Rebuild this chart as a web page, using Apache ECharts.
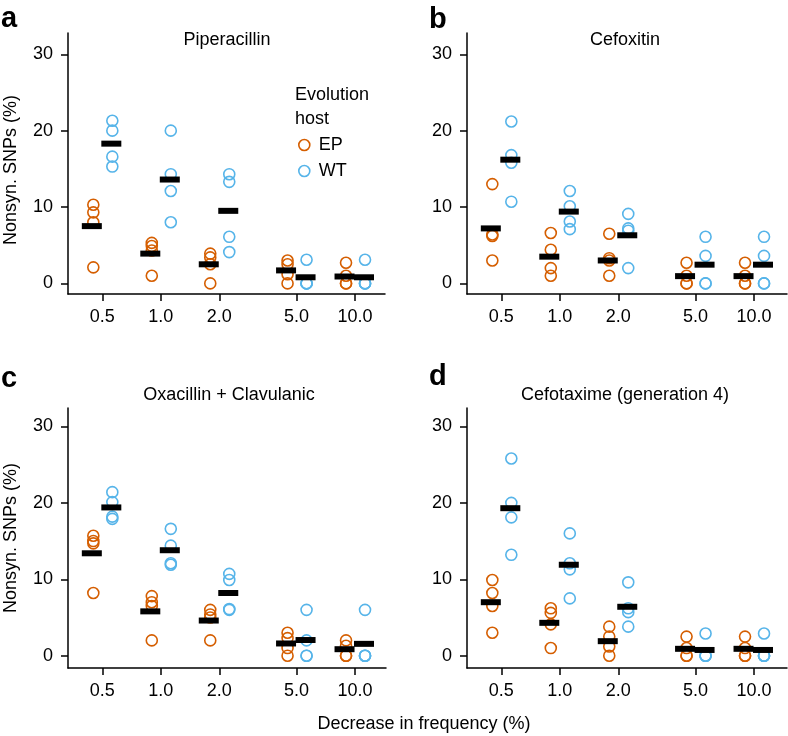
<!DOCTYPE html>
<html>
<head>
<meta charset="utf-8">
<script src="https://cdn.jsdelivr.net/npm/echarts@6/dist/echarts.min.js"></script>
<style>
  html, body { margin: 0; padding: 0; background: #fff; }
  #main { width: 788px; height: 736px; }
</style>
</head>
<body>
<div id="main"></div>
<script>
// Decrease in frequency (%) - x categories, drawn on a log2 scale
const freqs = [0.5, 1.0, 2.0, 5.0, 10.0];
const freqLabels = ['0.5', '1.0', '2.0', '5.0', '10.0'];
const yTicks = [0, 10, 20, 30];
const panelLetters = ['a', 'b', 'c', 'd'];
const panelTitles = ['Piperacillin', 'Cefoxitin', 'Oxacillin + Clavulanic', 'Cefotaxime (generation 4)'];

// Nonsyn. SNPs (%) per replicate, one row per frequency
const pipEP = [[10.3, 9.3, 8.0, 2.1], [5.3, 4.9, 4.3, 1.0], [3.9, 3.4, 2.5, 0], [3.0, 2.5, 1.2, 0], [2.7, 1.0, 0, 0]];
const pipWT = [[21.3, 20.0, 16.6, 15.3], [20.0, 14.3, 12.1, 8.0], [14.3, 13.3, 6.1, 4.1], [3.1, 0, 0, 0], [3.1, 0, 0, 0]];
const pipEPMean = [7.5, 3.9, 2.5, 1.7, 0.9];
const pipWTMean = [18.3, 13.6, 9.5, 0.8, 0.8];

const cfxEP = [[13.0, 6.4, 6.2, 3.0], [6.6, 4.4, 2.0, 1.0], [6.5, 3.3, 3.0, 1.0], [2.7, 1.0, 0, 0], [2.7, 1.0, 0, 0]];
const cfxWT = [[21.2, 16.8, 15.8, 10.7], [12.1, 10.1, 8.1, 7.1], [9.1, 7.2, 6.9, 2.0], [6.1, 3.6, 0, 0], [6.1, 3.6, 0, 0]];
const cfxEPMean = [7.2, 3.5, 3.0, 0.95, 0.95];
const cfxWTMean = [16.2, 9.4, 6.3, 2.45, 2.45];

const oxaEP = [[15.7, 15.0, 14.7, 8.2], [7.8, 7.0, 6.5, 2.0], [6.0, 5.4, 5.0, 2.0], [3.0, 2.3, 1.0, 0], [2.0, 1.3, 0, 0]];
const oxaWT = [[21.4, 20.1, 18.2, 17.9], [16.6, 14.4, 12.1, 11.9], [10.7, 9.9, 6.1, 6.0], [6.0, 2.0, 0, 0], [6.0, 0, 0, 0]];
const oxaEPMean = [13.4, 5.8, 4.6, 1.6, 0.85];
const oxaWTMean = [19.4, 13.8, 8.2, 2.05, 1.55];

const ctxEP = [[9.9, 8.2, 6.5, 3.0], [6.2, 5.6, 4.1, 1.0], [3.8, 2.5, 1.2, 0], [2.5, 1.0, 0, 0], [2.5, 1.0, 0, 0]];
const ctxWT = [[25.8, 20.0, 18.1, 13.2], [16.0, 12.1, 11.3, 7.5], [9.6, 6.2, 5.7, 3.8], [2.9, 0, 0, 0], [2.9, 0, 0, 0]];
const ctxEPMean = [7.0, 4.3, 1.9, 0.9, 0.9];
const ctxWTMean = [19.3, 11.9, 6.4, 0.75, 0.75];

const panels = [
  { ep: pipEP, wt: pipWT, epMean: pipEPMean, wtMean: pipWTMean },
  { ep: cfxEP, wt: cfxWT, epMean: cfxEPMean, wtMean: cfxWTMean },
  { ep: oxaEP, wt: oxaWT, epMean: oxaEPMean, wtMean: oxaWTMean },
  { ep: ctxEP, wt: ctxWT, epMean: ctxEPMean, wtMean: ctxWTMean }
];

const EP_COLOR = '#D55E00';
const WT_COLOR = '#56B4E9';
const FONT = '"Liberation Sans", Arial, Helvetica, sans-serif';

const chart = echarts.init(document.getElementById('main'));

const grids = [
  { left: 68, top: 33, width: 317, height: 261 },
  { left: 467, top: 33, width: 320, height: 261 },
  { left: 68, top: 408, width: 318, height: 260 },
  { left: 467, top: 408, width: 320, height: 260 }
];
const yRanges = [[-1.39, 32.79], [-1.39, 32.79], [-1.61, 32.41], [-1.61, 32.41]];
const pxPerUnit = 58.47; // pixels per log2 step
const xMin = -1.587;

const xPos = freqs.map(f => Math.log2(f));

function xLabel(v) {
  const i = xPos.findIndex(p => Math.abs(p - v) < 1e-6);
  return i >= 0 ? freqLabels[i] : '';
}

const axisLineStyle = { color: '#000', width: 1.5 };

const xAxes = grids.map((g, i) => ({
  type: 'value',
  gridIndex: i,
  min: xMin,
  max: xMin + g.width / pxPerUnit,
  splitLine: { show: false },
  axisLine: { show: true, onZero: false, lineStyle: axisLineStyle },
  axisTick: { show: true, customValues: xPos, length: 7, lineStyle: axisLineStyle },
  axisLabel: {
    customValues: xPos,
    formatter: xLabel,
    fontSize: 18,
    fontFamily: FONT,
    color: '#000',
    margin: 14
  }
}));

const yAxes = grids.map((g, i) => ({
  type: 'value',
  gridIndex: i,
  min: yRanges[i][0],
  max: yRanges[i][1],
  splitLine: { show: false },
  axisLine: { show: true, onZero: false, lineStyle: axisLineStyle },
  axisTick: { show: true, customValues: yTicks, length: 7, lineStyle: axisLineStyle },
  axisLabel: {
    customValues: yTicks,
    fontSize: 18,
    fontFamily: FONT,
    color: '#000',
    margin: 15
  }
}));

// [name, points, means, colour, circle offset, bar offset]
const series = [];
panels.forEach((p, i) => {
  [['EP', p.ep, p.epMean, EP_COLOR, -9, -10.5], ['WT', p.wt, p.wtMean, WT_COLOR, 10, 9]].forEach(([name, pts, means, color, off, barOff]) => {
    const data = [];
    pts.forEach((row, k) => row.forEach(v => data.push([xPos[k], v])));
    series.push({
      name: name,
      type: 'scatter',
      xAxisIndex: i,
      yAxisIndex: i,
      symbol: 'circle',
      symbolSize: 11,
      symbolOffset: [off, 0],
      itemStyle: { color: 'rgba(0,0,0,0)', borderColor: color, borderWidth: 1.6, opacity: 1 },
      emphasis: { disabled: true },
      data: data,
      z: 2
    });
    series.push({
      name: name + ' mean',
      type: 'scatter',
      xAxisIndex: i,
      yAxisIndex: i,
      symbol: 'rect',
      symbolSize: [20, 6],
      symbolOffset: [barOff, 0],
      itemStyle: { color: '#000', opacity: 1 },
      emphasis: { disabled: true },
      data: means.map((m, k) => [xPos[k], m]),
      z: 3
    });
  });
});

const graphics = [];
const titlePos = [[227, 40], [625, 40], [229, 395.5], [625, 395.5]];
const letterPos = [[1, 33], [429, 34], [1, 393], [429, 391]];
panelTitles.forEach((t, i) => {
  graphics.push({
    type: 'text', x: titlePos[i][0], y: titlePos[i][1],
    style: { text: t, font: '18px ' + FONT, fill: '#000', textAlign: 'center', textVerticalAlign: 'middle' }
  });
  graphics.push({
    type: 'text', x: letterPos[i][0], y: letterPos[i][1],
    style: { text: panelLetters[i], font: 'bold 29px ' + FONT, fill: '#000', textAlign: 'left', textVerticalAlign: 'bottom' }
  });
});
// y axis titles on the left panels
[[11, 170], [11, 538]].forEach(([x, y]) => {
  graphics.push({
    type: 'text', x: x, y: y, rotation: Math.PI / 2,
    style: { text: 'Nonsyn. SNPs (%)', font: '18px ' + FONT, fill: '#000', textAlign: 'center', textVerticalAlign: 'middle' }
  });
});
// shared x axis title
graphics.push({
  type: 'text', x: 424, y: 724,
  style: { text: 'Decrease in frequency (%)', font: '18px ' + FONT, fill: '#000', textAlign: 'center', textVerticalAlign: 'middle' }
});
// legend heading
graphics.push({
  type: 'text', x: 295, y: 83,
  style: { text: 'Evolution\nhost', font: '18px ' + FONT, fill: '#000', textAlign: 'left', textVerticalAlign: 'top', lineHeight: 24 }
});

const option = {
  animation: false,
  backgroundColor: '#fff',
  grid: grids,
  xAxis: xAxes,
  yAxis: yAxes,
  legend: {
    orient: 'vertical',
    left: 298,
    top: 136,
    padding: 0,
    itemGap: 8,
    itemWidth: 11,
    itemHeight: 11,
    selectedMode: false,
    textStyle: { fontSize: 18, fontFamily: FONT, color: '#000', padding: [0, 0, 0, 4] },
    data: [
      { name: 'EP', icon: 'circle', itemStyle: { color: 'rgba(0,0,0,0)', borderColor: EP_COLOR, borderWidth: 1.6 } },
      { name: 'WT', icon: 'circle', itemStyle: { color: 'rgba(0,0,0,0)', borderColor: WT_COLOR, borderWidth: 1.6 } }
    ]
  },
  graphic: graphics,
  series: series
};

chart.setOption(option);
</script>
</body>
</html>
